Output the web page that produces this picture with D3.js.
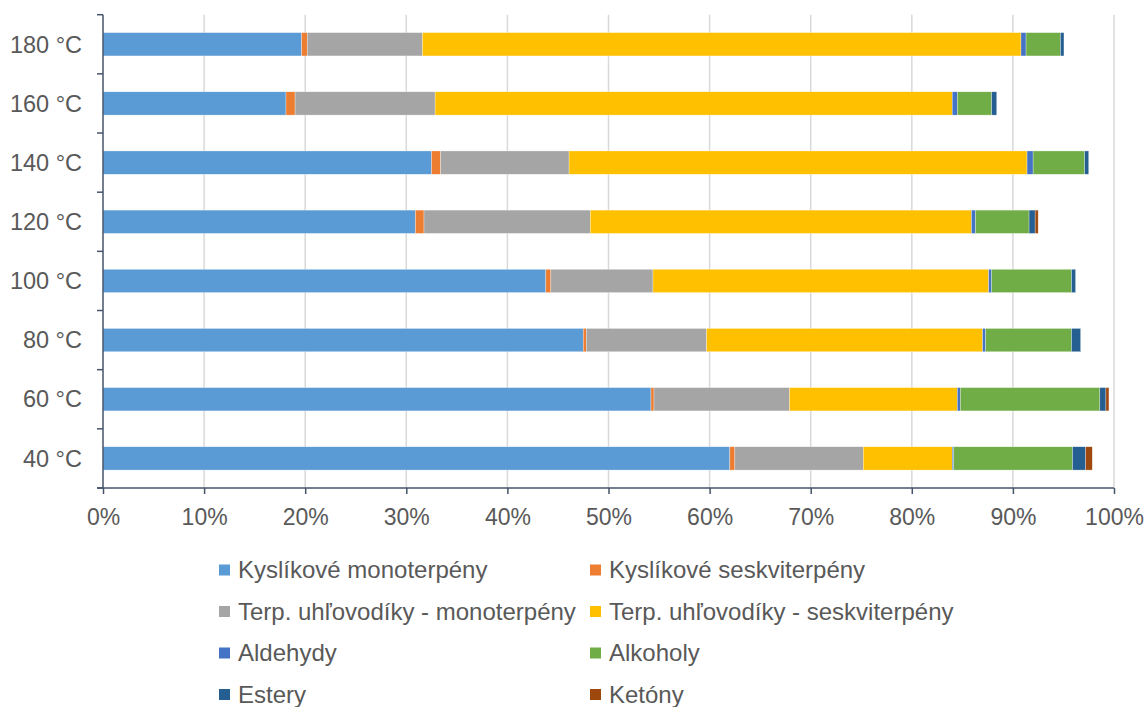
<!DOCTYPE html>
<html>
<head>
<meta charset="utf-8">
<script src="https://cdn.jsdelivr.net/npm/d3@7"></script>
<style>
  html, body { margin: 0; padding: 0; background: #fff; }
  svg { display: block; font-family: "Liberation Sans", Arial, sans-serif; }
</style>
</head>
<body>
<svg id="chart" width="1146" height="707"></svg>
<script>
// Temperatures, listed bottom to top
const categories = ["40 °C", "60 °C", "80 °C", "100 °C", "120 °C", "140 °C", "160 °C", "180 °C"];

// Share of each compound group (%), same order as categories
const kysMono   = [62.0, 54.2, 47.5, 43.8, 30.9, 32.5, 18.1, 19.65];
const kysSesk   = [0.5, 0.3, 0.3, 0.5, 0.85, 0.9, 0.9, 0.55];
const terpMono  = [12.7, 13.4, 11.9, 10.1, 16.45, 12.7, 13.85, 11.4];
const terpSesk  = [8.8, 16.6, 27.3, 33.2, 37.7, 45.3, 51.15, 59.2];
const aldehydy  = [0.15, 0.3, 0.3, 0.3, 0.4, 0.6, 0.5, 0.5];
const alkoholy  = [11.75, 13.8, 8.5, 7.9, 5.3, 5.1, 3.4, 3.4];
const estery    = [1.3, 0.6, 0.9, 0.4, 0.6, 0.4, 0.5, 0.35];
const ketony    = [0.65, 0.3, 0, 0, 0.3, 0, 0, 0];

const seriesNames = [
  "Kyslíkové monoterpény", "Kyslíkové seskviterpény",
  "Terp. uhľovodíky - monoterpény", "Terp. uhľovodíky - seskviterpény",
  "Aldehydy", "Alkoholy", "Estery", "Ketóny"
];
const seriesValues = [kysMono, kysSesk, terpMono, terpSesk, aldehydy, alkoholy, estery, ketony];
const seriesColors = ["#5B9BD5", "#ED7D31", "#A5A5A5", "#FFC000", "#4472C4", "#70AD47", "#255E91", "#9E480E"];

const xTicks = [0, 10, 20, 30, 40, 50, 60, 70, 80, 90, 100];

const svg = d3.select("#chart");
const plot = { left: 103, right: 1114, top: 14.7, bottom: 488 };
const textColor = "#595959";
const axisColor = "#44546A";

// Build stack table
const rows = categories.map((c, i) => {
  const r = { cat: c };
  seriesNames.forEach((s, k) => r[s] = seriesValues[k][i]);
  return r;
});
const stacked = d3.stack().keys(seriesNames)(rows);

const x = d3.scaleLinear().domain([0, 100]).range([plot.left, plot.right]);
const y = d3.scaleBand()
  .domain(categories.slice().reverse())
  .range([plot.top, plot.bottom])
  .paddingInner(0.606)
  .paddingOuter(0.303);

// Vertical gridlines
svg.append("g")
  .selectAll("line")
  .data(xTicks.filter(t => t > 0))
  .join("line")
  .attr("x1", d => x(d)).attr("x2", d => x(d))
  .attr("y1", plot.top).attr("y2", plot.bottom)
  .attr("stroke", "#D9D9D9").attr("stroke-width", 1.5);

// Stacked bars
svg.append("g")
  .selectAll("g")
  .data(stacked)
  .join("g")
  .attr("fill", (d, i) => seriesColors[i])
  .selectAll("rect")
  .data(d => d)
  .join("rect")
  .attr("x", d => x(d[0]))
  .attr("width", d => Math.max(0, x(d[1]) - x(d[0])))
  .attr("y", d => y(d.data.cat))
  .attr("height", y.bandwidth())
  .attr("stroke", "#fff")
  .attr("stroke-width", 0.5)
  .attr("stroke-opacity", 0.6);

// X axis
const xAxis = svg.append("g")
  .attr("transform", `translate(0,${plot.bottom})`)
  .call(d3.axisBottom(x).tickValues(xTicks).tickFormat(d => d + "%").tickSize(6).tickSizeOuter(0));
xAxis.select(".domain").remove();
xAxis.append("line")
  .attr("x1", plot.left - 6).attr("x2", plot.right)
  .attr("stroke", axisColor).attr("stroke-width", 1.5);
xAxis.selectAll(".tick line").attr("stroke", axisColor).attr("stroke-width", 1.5);
xAxis.selectAll(".tick text")
  .attr("fill", textColor)
  .attr("font-size", 23)
  .attr("dy", "1.2em")
  .attr("font-family", "Liberation Sans, Arial, sans-serif");

// Y axis: line with boundary ticks between categories
const yAxis = svg.append("g");
yAxis.append("line")
  .attr("x1", plot.left).attr("x2", plot.left)
  .attr("y1", plot.top).attr("y2", plot.bottom)
  .attr("stroke", axisColor).attr("stroke-width", 1.5);
const boundaries = d3.range(categories.length + 1).map(i => plot.top + i * y.step());
yAxis.selectAll(".bt")
  .data(boundaries)
  .join("line")
  .attr("x1", plot.left - 6).attr("x2", plot.left)
  .attr("y1", d => d).attr("y2", d => d)
  .attr("stroke", axisColor).attr("stroke-width", 1.5);
yAxis.selectAll("text")
  .data(categories)
  .join("text")
  .attr("x", 82)
  .attr("y", d => y(d) + y.bandwidth() / 2)
  .attr("dy", "0.35em")
  .attr("text-anchor", "end")
  .attr("fill", textColor)
  .attr("font-size", 23.5)
  .text(d => d);

// Legend, two columns
const legendCols = [219, 590];
const legendRow0 = 570;
const legendRowStep = 41.5;
const legend = svg.append("g");
seriesNames.forEach((name, i) => {
  const cx = legendCols[i % 2];
  const cy = legendRow0 + Math.floor(i / 2) * legendRowStep;
  legend.append("rect")
    .attr("x", cx).attr("y", cy - 5.5)
    .attr("width", 11).attr("height", 11)
    .attr("fill", seriesColors[i]);
  legend.append("text")
    .attr("x", cx + 19).attr("y", cy)
    .attr("dy", "0.35em")
    .attr("fill", textColor)
    .attr("font-size", 24)
    .text(name);
});
</script>
</body>
</html>
